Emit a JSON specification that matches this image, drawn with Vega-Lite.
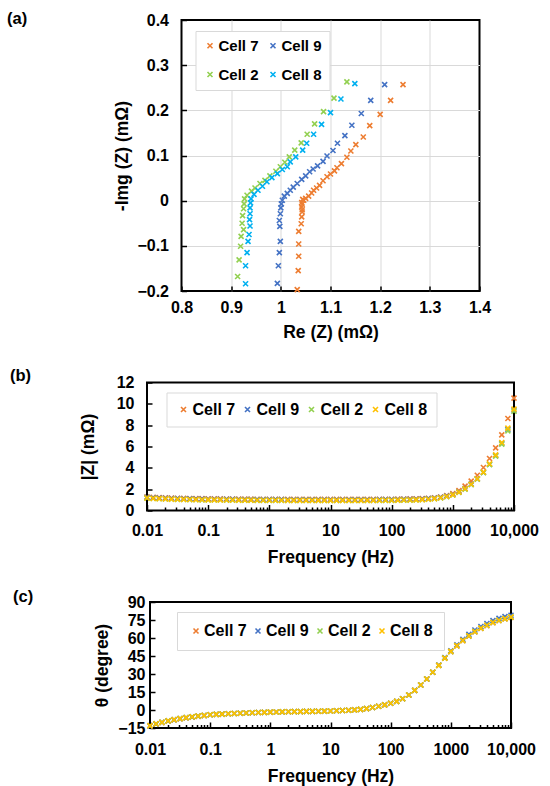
{
  "$schema": "https://vega.github.io/schema/vega-lite/v6.json",
  "background": "white",
  "padding": {"left": 6, "top": 9, "right": 0, "bottom": 0},
  "config": {
    "font": "Liberation Sans",
    "view": {"stroke": "black", "strokeWidth": 2},
    "axis": {
      "domain": false, "grid": false, "labelFlush": false, "labelOverlap": false,
      "labelFont": "Liberation Sans", "labelFontSize": 16, "labelFontWeight": "bold", "labelColor": "black",
      "titleFont": "Liberation Sans", "titleFontSize": 17.5, "titleFontWeight": "bold", "titleColor": "black",
      "tickColor": "black", "tickWidth": 1.5
    },
    "legend": {
      "labelFont": "Liberation Sans", "labelFontWeight": "bold", "labelColor": "black",
      "fillColor": "white", "strokeColor": "#D9D9D9", "symbolStrokeWidth": 1.6,
      "symbolType": "M-1,-1L1,1M1,-1L-1,1", "symbolSize": 25
    },
    "title": {"font": "Liberation Sans", "fontSize": 16.5, "fontWeight": "bold", "color": "black", "anchor": "start", "frame": "group"}
  },
  "datasets": {
    "nyq": [
      {"c":"Cell 7","re":1.246,"im":0.257},{"c":"Cell 7","re":1.221,"im":0.222},{"c":"Cell 7","re":1.2,"im":0.191},{"c":"Cell 7","re":1.179,"im":0.166},{"c":"Cell 7","re":1.166,"im":0.141},{"c":"Cell 7","re":1.151,"im":0.124},{"c":"Cell 7","re":1.141,"im":0.11},{"c":"Cell 7","re":1.133,"im":0.096},{"c":"Cell 7","re":1.122,"im":0.082},{"c":"Cell 7","re":1.113,"im":0.073},{"c":"Cell 7","re":1.108,"im":0.066},{"c":"Cell 7","re":1.1,"im":0.059},{"c":"Cell 7","re":1.093,"im":0.053},{"c":"Cell 7","re":1.085,"im":0.044},{"c":"Cell 7","re":1.078,"im":0.034},{"c":"Cell 7","re":1.072,"im":0.028},{"c":"Cell 7","re":1.066,"im":0.023},{"c":"Cell 7","re":1.062,"im":0.017},{"c":"Cell 7","re":1.056,"im":0.01},{"c":"Cell 7","re":1.05,"im":0.005},{"c":"Cell 7","re":1.046,"im":0.001},{"c":"Cell 7","re":1.044,"im":0.003},{"c":"Cell 7","re":1.042,"im":-0.004},{"c":"Cell 7","re":1.043,"im":-0.008},{"c":"Cell 7","re":1.042,"im":-0.014},{"c":"Cell 7","re":1.043,"im":-0.02},{"c":"Cell 7","re":1.043,"im":-0.025},{"c":"Cell 7","re":1.042,"im":-0.036},{"c":"Cell 7","re":1.041,"im":-0.051},{"c":"Cell 7","re":1.036,"im":-0.068},{"c":"Cell 7","re":1.036,"im":-0.096},{"c":"Cell 7","re":1.036,"im":-0.123},{"c":"Cell 7","re":1.035,"im":-0.155},{"c":"Cell 7","re":1.033,"im":-0.197},
      {"c":"Cell 9","re":1.209,"im":0.257},{"c":"Cell 9","re":1.181,"im":0.222},{"c":"Cell 9","re":1.162,"im":0.193},{"c":"Cell 9","re":1.143,"im":0.167},{"c":"Cell 9","re":1.129,"im":0.144},{"c":"Cell 9","re":1.114,"im":0.127},{"c":"Cell 9","re":1.105,"im":0.111},{"c":"Cell 9","re":1.093,"im":0.099},{"c":"Cell 9","re":1.085,"im":0.087},{"c":"Cell 9","re":1.074,"im":0.077},{"c":"Cell 9","re":1.065,"im":0.07},{"c":"Cell 9","re":1.058,"im":0.064},{"c":"Cell 9","re":1.05,"im":0.055},{"c":"Cell 9","re":1.042,"im":0.047},{"c":"Cell 9","re":1.033,"im":0.038},{"c":"Cell 9","re":1.025,"im":0.03},{"c":"Cell 9","re":1.019,"im":0.023},{"c":"Cell 9","re":1.013,"im":0.016},{"c":"Cell 9","re":1.007,"im":0.01},{"c":"Cell 9","re":1.003,"im":0.001},{"c":"Cell 9","re":1.001,"im":-0.007},{"c":"Cell 9","re":1.0,"im":-0.016},{"c":"Cell 9","re":0.999,"im":-0.029},{"c":"Cell 9","re":0.997,"im":-0.044},{"c":"Cell 9","re":0.998,"im":-0.057},{"c":"Cell 9","re":0.999,"im":-0.09},{"c":"Cell 9","re":0.997,"im":-0.115},{"c":"Cell 9","re":0.995,"im":-0.144},{"c":"Cell 9","re":0.993,"im":-0.183},
      {"c":"Cell 2","re":1.133,"im":0.263},{"c":"Cell 2","re":1.107,"im":0.227},{"c":"Cell 2","re":1.086,"im":0.197},{"c":"Cell 2","re":1.068,"im":0.17},{"c":"Cell 2","re":1.053,"im":0.147},{"c":"Cell 2","re":1.041,"im":0.128},{"c":"Cell 2","re":1.028,"im":0.112},{"c":"Cell 2","re":1.017,"im":0.097},{"c":"Cell 2","re":1.008,"im":0.085},{"c":"Cell 2","re":0.999,"im":0.075},{"c":"Cell 2","re":0.99,"im":0.065},{"c":"Cell 2","re":0.978,"im":0.055},{"c":"Cell 2","re":0.968,"im":0.045},{"c":"Cell 2","re":0.958,"im":0.038},{"c":"Cell 2","re":0.948,"im":0.028},{"c":"Cell 2","re":0.941,"im":0.021},{"c":"Cell 2","re":0.932,"im":0.012},{"c":"Cell 2","re":0.927,"im":0.004},{"c":"Cell 2","re":0.926,"im":-0.007},{"c":"Cell 2","re":0.925,"im":-0.018},{"c":"Cell 2","re":0.923,"im":-0.033},{"c":"Cell 2","re":0.922,"im":-0.05},{"c":"Cell 2","re":0.925,"im":-0.064},{"c":"Cell 2","re":0.92,"im":-0.079},{"c":"Cell 2","re":0.919,"im":-0.101},{"c":"Cell 2","re":0.916,"im":-0.131},{"c":"Cell 2","re":0.913,"im":-0.168},
      {"c":"Cell 8","re":1.149,"im":0.259},{"c":"Cell 8","re":1.121,"im":0.225},{"c":"Cell 8","re":1.1,"im":0.195},{"c":"Cell 8","re":1.082,"im":0.169},{"c":"Cell 8","re":1.066,"im":0.147},{"c":"Cell 8","re":1.052,"im":0.127},{"c":"Cell 8","re":1.044,"im":0.112},{"c":"Cell 8","re":1.03,"im":0.097},{"c":"Cell 8","re":1.019,"im":0.086},{"c":"Cell 8","re":1.013,"im":0.075},{"c":"Cell 8","re":1.003,"im":0.069},{"c":"Cell 8","re":0.993,"im":0.06},{"c":"Cell 8","re":0.982,"im":0.051},{"c":"Cell 8","re":0.972,"im":0.042},{"c":"Cell 8","re":0.963,"im":0.032},{"c":"Cell 8","re":0.954,"im":0.023},{"c":"Cell 8","re":0.946,"im":0.014},{"c":"Cell 8","re":0.94,"im":0.004},{"c":"Cell 8","re":0.939,"im":-0.005},{"c":"Cell 8","re":0.938,"im":-0.016},{"c":"Cell 8","re":0.938,"im":-0.029},{"c":"Cell 8","re":0.937,"im":-0.042},{"c":"Cell 8","re":0.938,"im":-0.056},{"c":"Cell 8","re":0.936,"im":-0.075},{"c":"Cell 8","re":0.934,"im":-0.09},{"c":"Cell 8","re":0.932,"im":-0.115},{"c":"Cell 8","re":0.929,"im":-0.144},{"c":"Cell 8","re":0.929,"im":-0.184}
    ],
    "fz": [
      {"c":"Cell 7","f":0.01,"z":1.27,"t":-13.3},{"c":"Cell 7","f":0.0126,"z":1.24,"t":-11.8},{"c":"Cell 7","f":0.0158,"z":1.21,"t":-10.5},{"c":"Cell 7","f":0.02,"z":1.19,"t":-9.3},{"c":"Cell 7","f":0.0251,"z":1.17,"t":-8.3},{"c":"Cell 7","f":0.0316,"z":1.15,"t":-7.4},{"c":"Cell 7","f":0.0398,"z":1.14,"t":-6.6},{"c":"Cell 7","f":0.0501,"z":1.13,"t":-5.9},{"c":"Cell 7","f":0.0631,"z":1.12,"t":-5.3},{"c":"Cell 7","f":0.0794,"z":1.11,"t":-4.8},
      {"c":"Cell 7","f":0.1,"z":1.1,"t":-4.0},{"c":"Cell 7","f":0.126,"z":1.09,"t":-3.7},{"c":"Cell 7","f":0.158,"z":1.09,"t":-3.4},{"c":"Cell 7","f":0.2,"z":1.08,"t":-3.1},{"c":"Cell 7","f":0.251,"z":1.08,"t":-2.9},{"c":"Cell 7","f":0.316,"z":1.07,"t":-2.7},{"c":"Cell 7","f":0.398,"z":1.07,"t":-2.5},{"c":"Cell 7","f":0.501,"z":1.07,"t":-2.3},{"c":"Cell 7","f":0.631,"z":1.06,"t":-2.1},{"c":"Cell 7","f":0.794,"z":1.06,"t":-2.0},
      {"c":"Cell 7","f":1,"z":1.06,"t":-1.8},{"c":"Cell 7","f":1.26,"z":1.06,"t":-1.7},{"c":"Cell 7","f":1.58,"z":1.06,"t":-1.6},{"c":"Cell 7","f":2,"z":1.05,"t":-1.5},{"c":"Cell 7","f":2.51,"z":1.05,"t":-1.4},{"c":"Cell 7","f":3.16,"z":1.05,"t":-1.3},{"c":"Cell 7","f":3.98,"z":1.05,"t":-1.2},{"c":"Cell 7","f":5.01,"z":1.05,"t":-1.1},{"c":"Cell 7","f":6.31,"z":1.05,"t":-1.0},{"c":"Cell 7","f":7.94,"z":1.05,"t":-0.9},
      {"c":"Cell 7","f":10,"z":1.05,"t":-0.8},{"c":"Cell 7","f":12.6,"z":1.05,"t":-0.6},{"c":"Cell 7","f":15.8,"z":1.05,"t":-0.4},{"c":"Cell 7","f":20,"z":1.05,"t":-0.2},{"c":"Cell 7","f":25.1,"z":1.05,"t":0.1},{"c":"Cell 7","f":31.6,"z":1.05,"t":0.5},{"c":"Cell 7","f":39.8,"z":1.05,"t":1.1},{"c":"Cell 7","f":50.1,"z":1.05,"t":2.1},{"c":"Cell 7","f":63.1,"z":1.06,"t":3.1},{"c":"Cell 7","f":79.4,"z":1.06,"t":4.3},
      {"c":"Cell 7","f":100,"z":1.06,"t":5.6},{"c":"Cell 7","f":126,"z":1.07,"t":7.2},{"c":"Cell 7","f":158,"z":1.08,"t":9.4},{"c":"Cell 7","f":200,"z":1.09,"t":12.5},{"c":"Cell 7","f":251,"z":1.1,"t":16.4},{"c":"Cell 7","f":316,"z":1.12,"t":20.8},{"c":"Cell 7","f":398,"z":1.15,"t":25.8},{"c":"Cell 7","f":501,"z":1.2,"t":31.5},{"c":"Cell 7","f":631,"z":1.27,"t":37.2},{"c":"Cell 7","f":794,"z":1.39,"t":43.2},
      {"c":"Cell 7","f":1000,"z":1.59,"t":48.5},{"c":"Cell 7","f":1259,"z":1.88,"t":53.3},{"c":"Cell 7","f":1585,"z":2.28,"t":57.7},{"c":"Cell 7","f":1995,"z":2.75,"t":61.6},{"c":"Cell 7","f":2512,"z":3.31,"t":65.1},{"c":"Cell 7","f":3162,"z":4.03,"t":67.9},{"c":"Cell 7","f":3981,"z":4.87,"t":70.3},{"c":"Cell 7","f":5012,"z":5.87,"t":72.7},{"c":"Cell 7","f":6310,"z":7.09,"t":74.5},{"c":"Cell 7","f":7943,"z":8.62,"t":75.9},{"c":"Cell 7","f":10000,"z":10.53,"t":77.2},

      {"c":"Cell 9","f":0.01,"z":1.23,"t":-13.0},{"c":"Cell 9","f":0.0126,"z":1.2,"t":-11.5},{"c":"Cell 9","f":0.0158,"z":1.17,"t":-10.2},{"c":"Cell 9","f":0.02,"z":1.15,"t":-9.0},{"c":"Cell 9","f":0.0251,"z":1.13,"t":-8.0},{"c":"Cell 9","f":0.0316,"z":1.11,"t":-7.1},{"c":"Cell 9","f":0.0398,"z":1.1,"t":-6.3},{"c":"Cell 9","f":0.0501,"z":1.09,"t":-5.6},{"c":"Cell 9","f":0.0631,"z":1.08,"t":-5.0},{"c":"Cell 9","f":0.0794,"z":1.07,"t":-4.5},
      {"c":"Cell 9","f":0.1,"z":1.06,"t":-4.0},{"c":"Cell 9","f":0.126,"z":1.05,"t":-3.7},{"c":"Cell 9","f":0.158,"z":1.05,"t":-3.4},{"c":"Cell 9","f":0.2,"z":1.04,"t":-3.1},{"c":"Cell 9","f":0.251,"z":1.04,"t":-2.9},{"c":"Cell 9","f":0.316,"z":1.03,"t":-2.7},{"c":"Cell 9","f":0.398,"z":1.03,"t":-2.5},{"c":"Cell 9","f":0.501,"z":1.03,"t":-2.3},{"c":"Cell 9","f":0.631,"z":1.02,"t":-2.1},{"c":"Cell 9","f":0.794,"z":1.02,"t":-2.0},
      {"c":"Cell 9","f":1,"z":1.02,"t":-1.8},{"c":"Cell 9","f":1.26,"z":1.02,"t":-1.7},{"c":"Cell 9","f":1.58,"z":1.02,"t":-1.6},{"c":"Cell 9","f":2,"z":1.01,"t":-1.5},{"c":"Cell 9","f":2.51,"z":1.01,"t":-1.4},{"c":"Cell 9","f":3.16,"z":1.01,"t":-1.3},{"c":"Cell 9","f":3.98,"z":1.01,"t":-1.2},{"c":"Cell 9","f":5.01,"z":1.01,"t":-1.1},{"c":"Cell 9","f":6.31,"z":1.01,"t":-1.0},{"c":"Cell 9","f":7.94,"z":1.01,"t":-0.9},
      {"c":"Cell 9","f":10,"z":1.01,"t":-0.8},{"c":"Cell 9","f":12.6,"z":1.01,"t":-0.6},{"c":"Cell 9","f":15.8,"z":1.01,"t":-0.4},{"c":"Cell 9","f":20,"z":1.01,"t":-0.2},{"c":"Cell 9","f":25.1,"z":1.01,"t":0.1},{"c":"Cell 9","f":31.6,"z":1.01,"t":0.5},{"c":"Cell 9","f":39.8,"z":1.01,"t":1.1},{"c":"Cell 9","f":50.1,"z":1.01,"t":2.1},{"c":"Cell 9","f":63.1,"z":1.02,"t":3.1},{"c":"Cell 9","f":79.4,"z":1.02,"t":4.3},
      {"c":"Cell 9","f":100,"z":1.02,"t":5.6},{"c":"Cell 9","f":126,"z":1.03,"t":7.2},{"c":"Cell 9","f":158,"z":1.04,"t":9.4},{"c":"Cell 9","f":200,"z":1.04,"t":12.5},{"c":"Cell 9","f":251,"z":1.06,"t":16.4},{"c":"Cell 9","f":316,"z":1.08,"t":20.8},{"c":"Cell 9","f":398,"z":1.11,"t":25.8},{"c":"Cell 9","f":501,"z":1.16,"t":31.5},{"c":"Cell 9","f":631,"z":1.23,"t":37.5},{"c":"Cell 9","f":794,"z":1.35,"t":43.6},
      {"c":"Cell 9","f":1000,"z":1.5,"t":49.3},{"c":"Cell 9","f":1259,"z":1.74,"t":54.3},{"c":"Cell 9","f":1585,"z":2.06,"t":58.9},{"c":"Cell 9","f":1995,"z":2.47,"t":63.0},{"c":"Cell 9","f":2512,"z":2.98,"t":66.7},{"c":"Cell 9","f":3162,"z":3.58,"t":69.6},{"c":"Cell 9","f":3981,"z":4.34,"t":72.1},{"c":"Cell 9","f":5012,"z":5.16,"t":74.5},{"c":"Cell 9","f":6310,"z":6.3,"t":76.3},{"c":"Cell 9","f":7943,"z":7.62,"t":77.8},{"c":"Cell 9","f":10000,"z":9.42,"t":79.0},

      {"c":"Cell 2","f":0.01,"z":1.16,"t":-13.1},{"c":"Cell 2","f":0.0126,"z":1.13,"t":-11.6},{"c":"Cell 2","f":0.0158,"z":1.1,"t":-10.3},{"c":"Cell 2","f":0.02,"z":1.08,"t":-9.1},{"c":"Cell 2","f":0.0251,"z":1.06,"t":-8.1},{"c":"Cell 2","f":0.0316,"z":1.04,"t":-7.2},{"c":"Cell 2","f":0.0398,"z":1.03,"t":-6.4},{"c":"Cell 2","f":0.0501,"z":1.02,"t":-5.7},{"c":"Cell 2","f":0.0631,"z":1.01,"t":-5.1},{"c":"Cell 2","f":0.0794,"z":1.0,"t":-4.6},
      {"c":"Cell 2","f":0.1,"z":0.99,"t":-4.0},{"c":"Cell 2","f":0.126,"z":0.98,"t":-3.7},{"c":"Cell 2","f":0.158,"z":0.98,"t":-3.4},{"c":"Cell 2","f":0.2,"z":0.97,"t":-3.1},{"c":"Cell 2","f":0.251,"z":0.97,"t":-2.9},{"c":"Cell 2","f":0.316,"z":0.96,"t":-2.7},{"c":"Cell 2","f":0.398,"z":0.96,"t":-2.5},{"c":"Cell 2","f":0.501,"z":0.96,"t":-2.3},{"c":"Cell 2","f":0.631,"z":0.95,"t":-2.1},{"c":"Cell 2","f":0.794,"z":0.95,"t":-2.0},
      {"c":"Cell 2","f":1,"z":0.95,"t":-1.8},{"c":"Cell 2","f":1.26,"z":0.95,"t":-1.7},{"c":"Cell 2","f":1.58,"z":0.95,"t":-1.6},{"c":"Cell 2","f":2,"z":0.94,"t":-1.5},{"c":"Cell 2","f":2.51,"z":0.94,"t":-1.4},{"c":"Cell 2","f":3.16,"z":0.94,"t":-1.3},{"c":"Cell 2","f":3.98,"z":0.94,"t":-1.2},{"c":"Cell 2","f":5.01,"z":0.94,"t":-1.1},{"c":"Cell 2","f":6.31,"z":0.94,"t":-1.0},{"c":"Cell 2","f":7.94,"z":0.94,"t":-0.9},
      {"c":"Cell 2","f":10,"z":0.94,"t":-0.8},{"c":"Cell 2","f":12.6,"z":0.94,"t":-0.6},{"c":"Cell 2","f":15.8,"z":0.94,"t":-0.4},{"c":"Cell 2","f":20,"z":0.94,"t":-0.2},{"c":"Cell 2","f":25.1,"z":0.94,"t":0.1},{"c":"Cell 2","f":31.6,"z":0.94,"t":0.5},{"c":"Cell 2","f":39.8,"z":0.94,"t":1.1},{"c":"Cell 2","f":50.1,"z":0.94,"t":2.1},{"c":"Cell 2","f":63.1,"z":0.95,"t":3.1},{"c":"Cell 2","f":79.4,"z":0.95,"t":4.3},
      {"c":"Cell 2","f":100,"z":0.95,"t":5.6},{"c":"Cell 2","f":126,"z":0.96,"t":7.2},{"c":"Cell 2","f":158,"z":0.97,"t":9.4},{"c":"Cell 2","f":200,"z":0.97,"t":12.5},{"c":"Cell 2","f":251,"z":0.99,"t":16.4},{"c":"Cell 2","f":316,"z":1.01,"t":20.8},{"c":"Cell 2","f":398,"z":1.05,"t":25.8},{"c":"Cell 2","f":501,"z":1.1,"t":31.5},{"c":"Cell 2","f":631,"z":1.17,"t":37.2},{"c":"Cell 2","f":794,"z":1.29,"t":43.2},
      {"c":"Cell 2","f":1000,"z":1.45,"t":48.7},{"c":"Cell 2","f":1259,"z":1.7,"t":53.5},{"c":"Cell 2","f":1585,"z":2.01,"t":57.9},{"c":"Cell 2","f":1995,"z":2.42,"t":61.8},{"c":"Cell 2","f":2512,"z":2.93,"t":65.3},{"c":"Cell 2","f":3162,"z":3.55,"t":68.1},{"c":"Cell 2","f":3981,"z":4.3,"t":70.5},{"c":"Cell 2","f":5012,"z":5.1,"t":72.9},{"c":"Cell 2","f":6310,"z":6.22,"t":74.7},{"c":"Cell 2","f":7943,"z":7.47,"t":76.1},{"c":"Cell 2","f":10000,"z":9.3,"t":77.4},

      {"c":"Cell 8","f":0.01,"z":1.17,"t":-13.0},{"c":"Cell 8","f":0.0126,"z":1.14,"t":-11.5},{"c":"Cell 8","f":0.0158,"z":1.11,"t":-10.2},{"c":"Cell 8","f":0.02,"z":1.09,"t":-9.0},{"c":"Cell 8","f":0.0251,"z":1.07,"t":-8.0},{"c":"Cell 8","f":0.0316,"z":1.05,"t":-7.1},{"c":"Cell 8","f":0.0398,"z":1.04,"t":-6.3},{"c":"Cell 8","f":0.0501,"z":1.03,"t":-5.6},{"c":"Cell 8","f":0.0631,"z":1.02,"t":-5.0},{"c":"Cell 8","f":0.0794,"z":1.01,"t":-4.5},
      {"c":"Cell 8","f":0.1,"z":1.0,"t":-4.0},{"c":"Cell 8","f":0.126,"z":0.99,"t":-3.7},{"c":"Cell 8","f":0.158,"z":0.99,"t":-3.4},{"c":"Cell 8","f":0.2,"z":0.98,"t":-3.1},{"c":"Cell 8","f":0.251,"z":0.98,"t":-2.9},{"c":"Cell 8","f":0.316,"z":0.97,"t":-2.7},{"c":"Cell 8","f":0.398,"z":0.97,"t":-2.5},{"c":"Cell 8","f":0.501,"z":0.97,"t":-2.3},{"c":"Cell 8","f":0.631,"z":0.96,"t":-2.1},{"c":"Cell 8","f":0.794,"z":0.96,"t":-2.0},
      {"c":"Cell 8","f":1,"z":0.96,"t":-1.8},{"c":"Cell 8","f":1.26,"z":0.96,"t":-1.7},{"c":"Cell 8","f":1.58,"z":0.96,"t":-1.6},{"c":"Cell 8","f":2,"z":0.95,"t":-1.5},{"c":"Cell 8","f":2.51,"z":0.95,"t":-1.4},{"c":"Cell 8","f":3.16,"z":0.95,"t":-1.3},{"c":"Cell 8","f":3.98,"z":0.95,"t":-1.2},{"c":"Cell 8","f":5.01,"z":0.95,"t":-1.1},{"c":"Cell 8","f":6.31,"z":0.95,"t":-1.0},{"c":"Cell 8","f":7.94,"z":0.95,"t":-0.9},
      {"c":"Cell 8","f":10,"z":0.95,"t":-0.8},{"c":"Cell 8","f":12.6,"z":0.95,"t":-0.6},{"c":"Cell 8","f":15.8,"z":0.95,"t":-0.4},{"c":"Cell 8","f":20,"z":0.95,"t":-0.2},{"c":"Cell 8","f":25.1,"z":0.95,"t":0.1},{"c":"Cell 8","f":31.6,"z":0.95,"t":0.5},{"c":"Cell 8","f":39.8,"z":0.95,"t":1.1},{"c":"Cell 8","f":50.1,"z":0.95,"t":2.1},{"c":"Cell 8","f":63.1,"z":0.96,"t":3.1},{"c":"Cell 8","f":79.4,"z":0.96,"t":4.3},
      {"c":"Cell 8","f":100,"z":0.96,"t":5.6},{"c":"Cell 8","f":126,"z":0.97,"t":7.2},{"c":"Cell 8","f":158,"z":0.98,"t":9.4},{"c":"Cell 8","f":200,"z":0.98,"t":12.5},{"c":"Cell 8","f":251,"z":1.0,"t":16.4},{"c":"Cell 8","f":316,"z":1.02,"t":20.8},{"c":"Cell 8","f":398,"z":1.06,"t":25.8},{"c":"Cell 8","f":501,"z":1.11,"t":31.5},{"c":"Cell 8","f":631,"z":1.19,"t":37.2},{"c":"Cell 8","f":794,"z":1.31,"t":43.2},
      {"c":"Cell 8","f":1000,"z":1.47,"t":48.8},{"c":"Cell 8","f":1259,"z":1.72,"t":53.6},{"c":"Cell 8","f":1585,"z":2.04,"t":58.0},{"c":"Cell 8","f":1995,"z":2.46,"t":61.9},{"c":"Cell 8","f":2512,"z":2.98,"t":65.4},{"c":"Cell 8","f":3162,"z":3.6,"t":68.2},{"c":"Cell 8","f":3981,"z":4.38,"t":70.6},{"c":"Cell 8","f":5012,"z":5.22,"t":73.0},{"c":"Cell 8","f":6310,"z":6.37,"t":74.8},{"c":"Cell 8","f":7943,"z":7.72,"t":76.2},{"c":"Cell 8","f":10000,"z":9.5,"t":77.5}
    ]
  },
  "spacing": 91.5,
  "center": true,
  "bounds": "flush",
  "resolve": {
    "scale": {"x": "independent", "y": "independent", "color": "independent"},
    "legend": {"color": "independent"}
  },
  "vconcat": [
    {
      "width": 298,
      "height": 271,
      "title": {"text": "(a)", "dx": -174.5, "dy": 19},
      "data": {"name": "nyq"},
      "mark": {"type": "point", "shape": "M-1,-1L1,1M1,-1L-1,1", "filled": false, "size": 25, "strokeWidth": 1.6, "opacity": 1},
      "encoding": {
        "x": {
          "field": "re", "type": "quantitative",
          "scale": {"domain": [0.8, 1.4], "nice": false, "zero": false},
          "axis": {
            "title": "Re (Z) (mΩ)", "values": [0.8, 0.9, 1, 1.1, 1.2, 1.3, 1.4], "format": "~g",
            "grid": true, "gridColor": "#D9D9D9",
            "gridOpacity": {"condition": {"test": "datum.value <= 0.8 || datum.value >= 1.4", "value": 0}, "value": 1},
            "tickSize": -5, "labelPadding": 13.5, "titlePadding": 7.5
          }
        },
        "y": {
          "field": "im", "type": "quantitative",
          "scale": {"domain": [-0.2, 0.4], "nice": false, "zero": false},
          "axis": {
            "title": "-Img (Z) (mΩ)", "values": [-0.2, -0.1, 0, 0.1, 0.2, 0.3, 0.4], "format": "~g",
            "grid": true, "gridColor": "#D9D9D9",
            "gridOpacity": {"condition": {"test": "datum.value <= -0.2 || datum.value >= 0.4", "value": 0}, "value": 1},
            "tickSize": -5, "labelPadding": 18, "titlePadding": 5.5
          }
        },
        "color": {
          "field": "c", "type": "nominal",
          "scale": {"domain": ["Cell 7", "Cell 9", "Cell 2", "Cell 8"], "range": ["#ED7D31", "#4472C4", "#92D050", "#00B0F0"]},
          "legend": {
            "title": null, "orient": "none", "legendX": 14, "legendY": 11, "columns": 2, "direction": "horizontal",
            "columnPadding": 6, "rowPadding": 13, "padding": 7, "labelFontSize": 15, "labelOffset": 1
          }
        }
      }
    },
    {
      "width": 367,
      "height": 128,
      "title": {"text": "(b)", "dx": -137, "dy": 13.5},
      "data": {"name": "fz"},
      "mark": {"type": "point", "shape": "M-1,-1L1,1M1,-1L-1,1", "filled": false, "size": 25, "strokeWidth": 1.6, "opacity": 1},
      "encoding": {
        "x": {
          "field": "f", "type": "quantitative",
          "scale": {"type": "log", "domain": [0.01, 10000], "nice": false},
          "axis": {
            "title": "Frequency (Hz)",
            "values": [0.01,0.02,0.03,0.04,0.05,0.06,0.07,0.08,0.09,0.1,0.2,0.3,0.4,0.5,0.6,0.7,0.8,0.9,1,2,3,4,5,6,7,8,9,10,20,30,40,50,60,70,80,90,100,200,300,400,500,600,700,800,900,1000,2000,3000,4000,5000,6000,7000,8000,9000,10000],
            "labelExpr": "datum.value == 10000 ? '10,000' : indexof([0.01, 0.1, 1, 10, 100, 1000], datum.value) >= 0 ? format(datum.value, '~g') : ''",
            "tickSize": {"condition": {"test": "indexof([0.01, 0.1, 1, 10, 100, 1000, 10000], datum.value) >= 0", "value": -6}, "value": -3.5},
            "labelPadding": 18, "titlePadding": 7
          }
        },
        "y": {
          "field": "z", "type": "quantitative",
          "scale": {"domain": [0, 12], "nice": false},
          "axis": {"title": "|Z| (mΩ)", "values": [0, 2, 4, 6, 8, 10, 12], "tickSize": -5, "labelPadding": 18, "titlePadding": 18.5}
        },
        "color": {
          "field": "c", "type": "nominal",
          "scale": {"domain": ["Cell 7", "Cell 9", "Cell 2", "Cell 8"], "range": ["#ED7D31", "#4472C4", "#92D050", "#FFC000"]},
          "legend": {
            "title": null, "orient": "none", "legendX": 19.5, "legendY": 10, "columns": 4, "direction": "horizontal",
            "columnPadding": 4, "padding": 9, "labelFontSize": 16, "labelOffset": 1
          }
        }
      }
    },
    {
      "width": 361,
      "height": 126,
      "title": {"text": "(c)", "dx": -137, "dy": 15},
      "data": {"name": "fz"},
      "mark": {"type": "point", "shape": "M-1,-1L1,1M1,-1L-1,1", "filled": false, "size": 25, "strokeWidth": 1.6, "opacity": 1},
      "encoding": {
        "x": {
          "field": "f", "type": "quantitative",
          "scale": {"type": "log", "domain": [0.01, 10000], "nice": false},
          "axis": {
            "title": "Frequency (Hz)",
            "values": [0.01,0.02,0.03,0.04,0.05,0.06,0.07,0.08,0.09,0.1,0.2,0.3,0.4,0.5,0.6,0.7,0.8,0.9,1,2,3,4,5,6,7,8,9,10,20,30,40,50,60,70,80,90,100,200,300,400,500,600,700,800,900,1000,2000,3000,4000,5000,6000,7000,8000,9000,10000],
            "labelExpr": "datum.value == 10000 ? '10,000' : indexof([0.01, 0.1, 1, 10, 100, 1000], datum.value) >= 0 ? format(datum.value, '~g') : ''",
            "tickSize": {"condition": {"test": "indexof([0.01, 0.1, 1, 10, 100, 1000, 10000], datum.value) >= 0", "value": -6}, "value": -3.5},
            "labelPadding": 19.5, "titlePadding": 7.5
          }
        },
        "y": {
          "field": "t", "type": "quantitative",
          "scale": {"domain": [-15, 90], "nice": false, "zero": false},
          "axis": {"title": "θ (degree)", "values": [-15, 0, 15, 30, 45, 60, 75, 90], "tickSize": -5, "labelPadding": 10, "titlePadding": 6}
        },
        "color": {
          "field": "c", "type": "nominal",
          "scale": {"domain": ["Cell 7", "Cell 9", "Cell 2", "Cell 8"], "range": ["#ED7D31", "#4472C4", "#92D050", "#FFC000"]},
          "legend": {
            "title": null, "orient": "none", "legendX": 27, "legendY": 10, "columns": 4, "direction": "horizontal",
            "columnPadding": 3, "padding": 11, "labelFontSize": 16, "labelOffset": 0
          }
        }
      }
    }
  ]
}
